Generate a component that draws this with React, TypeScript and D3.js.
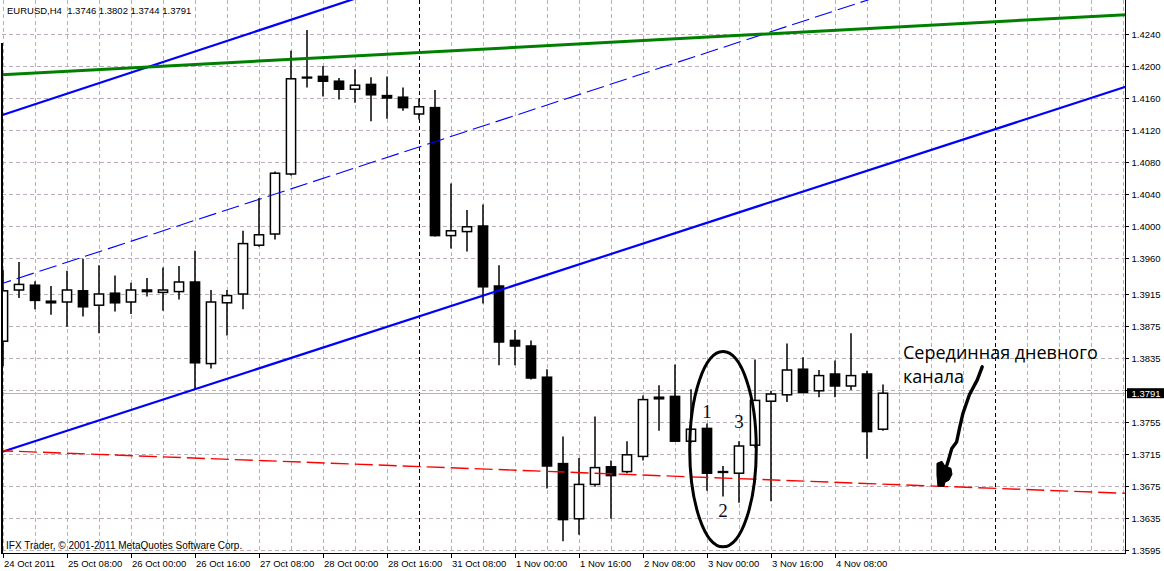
import React, { useEffect } from "react";
import * as d3 from "d3";

// EURUSD H4 candles, 24 Oct 16:00 .. 4 Nov 20:00 (2011)
const symbol = "EURUSD";
const timeframe = "H4";
const opens = [
  1.3856, 1.392, 1.3926, 1.3906, 1.3905, 1.3919, 1.3901, 1.3916, 1.3905, 1.392,
  1.3917, 1.3918, 1.393, 1.3828, 1.3904, 1.3915, 1.3976, 1.399, 1.4065, 1.4185,
  1.4187, 1.4181, 1.4171, 1.4177, 1.4163, 1.4161, 1.414, 1.4148, 1.3988, 1.3993,
  1.4, 1.3925, 1.3857, 1.385, 1.3811, 1.3703, 1.3634, 1.3677, 1.3699, 1.3693,
  1.3712, 1.3786, 1.3787, 1.3731, 1.3747, 1.3692, 1.3691, 1.3726, 1.3781, 1.3789,
  1.3821, 1.3794, 1.3815, 1.38, 1.3815, 1.3746,
];
const highs = [
  1.3945, 1.3955, 1.3931, 1.3925, 1.3944, 1.3959, 1.3951, 1.3938, 1.3929, 1.3935,
  1.3948, 1.395, 1.3969, 1.392, 1.392, 1.3994, 1.4035, 1.4068, 1.4219, 1.4245,
  1.42, 1.4185, 1.4196, 1.4186, 1.4187, 1.4173, 1.4159, 1.417, 1.4053, 1.402,
  1.4027, 1.3951, 1.387, 1.3857, 1.3821, 1.3737, 1.371, 1.3762, 1.3707, 1.3731,
  1.3788, 1.3801, 1.3827, 1.3796, 1.3753, 1.37, 1.3731, 1.3833, 1.3794, 1.3853,
  1.3836, 1.382, 1.3832, 1.3866, 1.3819, 1.3802,
];
const lows = [
  1.3825, 1.391, 1.3896, 1.3889, 1.3874, 1.3887, 1.3866, 1.3893, 1.389, 1.3912,
  1.3894, 1.3908, 1.3795, 1.3822, 1.3863, 1.3896, 1.3974, 1.3983, 1.4063, 1.4173,
  1.4162, 1.4158, 1.4154, 1.4131, 1.4134, 1.4144, 1.4133, 1.3987, 1.3972, 1.3968,
  1.3903, 1.3826, 1.3826, 1.3808, 1.3672, 1.3606, 1.3614, 1.3674, 1.3634, 1.3691,
  1.3707, 1.3744, 1.373, 1.3729, 1.3669, 1.3662, 1.3654, 1.3723, 1.3656, 1.378,
  1.3791, 1.3786, 1.3786, 1.3795, 1.3709, 1.3744,
];
const closes = [
  1.3919, 1.3927, 1.3907, 1.3904, 1.392, 1.3899, 1.3915, 1.3904, 1.392, 1.3918,
  1.392, 1.393, 1.3829, 1.3905, 1.3913, 1.3978, 1.3989, 1.4066, 1.4184, 1.4186,
  1.4181, 1.4171, 1.4176, 1.4164, 1.416, 1.4148, 1.4149, 1.3988, 1.3994, 1.3999,
  1.3924, 1.3855, 1.385, 1.381, 1.37, 1.3633, 1.3677, 1.3698, 1.3688, 1.3714,
  1.3783, 1.3784, 1.3731, 1.3746, 1.3691, 1.3693, 1.3725, 1.3782, 1.379, 1.382,
  1.3792, 1.3813, 1.38, 1.3813, 1.3743, 1.3791,
];

// time axis labels, one every 4 bars
const timeLabels = [
  "24 Oct 2011", "25 Oct 08:00", "26 Oct 00:00", "26 Oct 16:00", "27 Oct 08:00",
  "28 Oct 00:00", "28 Oct 16:00", "31 Oct 08:00", "1 Nov 00:00", "1 Nov 16:00",
  "2 Nov 08:00", "3 Nov 00:00", "3 Nov 16:00", "4 Nov 08:00",
];
const barsPerLabel = 4;
const gridEveryBars = 2;
const separatorBars = [26, 62];

// price scale levels
const priceTicks = [
  1.424, 1.42, 1.416, 1.412, 1.408, 1.404, 1.4, 1.396, 1.3915, 1.3875, 1.3835,
  1.3795, 1.3755, 1.3715, 1.3675, 1.3635, 1.3595,
];

// trend lines as [bar, price] anchor pairs
const channelUpper: [number, number][] = [[0, 1.4139], [20, 1.4271]];
const channelLower: [number, number][] = [[0, 1.3718], [60, 1.4108]];
const greenLine: [number, number][] = [[0, 1.4189], [70, 1.4264]];
const redLine: [number, number][] = [[0, 1.3719], [70, 1.3666]];

// hand annotations
const ellipseCenter: [number, number] = [45, 1.3721];
const ellipseHalfBars = 2.08;
const ellipseHalfPrice = 0.0122;
const waveLabels: { text: string; bar: number; price: number }[] = [
  { text: "1", bar: 44, price: 1.376 },
  { text: "2", bar: 45, price: 1.3636 },
  { text: "3", bar: 46, price: 1.3748 },
];
const noteLines = ["Серединная дневного", "канала"];
const noteAnchor: [number, number] = [56.25, 1.3834];
const arrowPath: [number, number][] = [
  [61.2, 1.3824], [60.9, 1.3808], [60.4, 1.3789], [60.0, 1.3766], [59.8, 1.3749],
  [59.6, 1.373], [59.3, 1.3722], [59.1, 1.3708], [58.9, 1.3695],
];
const arrowTipBar = 58.56;

const footer = "IFX Trader, © 2001-2011 MetaQuotes Software Corp.";

const W = 1164;
const H = 571;
const left = 2;
const right = 1125.5;
const top = 0;
const bottom = 553.5;
const axisFont = "'Liberation Sans', Arial, sans-serif";

function lineAt(pts: [number, number][], bar: number) {
  const [[b0, p0], [b1, p1]] = pts;
  return p0 + ((p1 - p0) * (bar - b0)) / (b1 - b0);
}

export default function App() {
  useEffect(() => {
    document.body.style.margin = "0";
  }, []);

  const x = d3.scaleLinear().domain([0, 70]).range([3, 1123]);
  const y = d3.scaleLinear().domain([1.3595, 1.424]).range([550, 34]);

  const bars = d3.range(closes.length);
  const gridBars = d3.range(0, 71, gridEveryBars);
  const last = closes.length - 1;
  const current = closes[last];

  const header = `${symbol},${timeframe}  ${[opens[last], highs[last], lows[last], closes[last]]
    .map((v) => v.toFixed(4))
    .join(" ")}`;

  const fullLine = (pts: [number, number][]) => {
    const b0 = -2;
    const b1 = 72;
    return { x1: x(b0), y1: y(lineAt(pts, b0)), x2: x(b1), y2: y(lineAt(pts, b1)) };
  };
  const midLine: [number, number][] = [
    [0, (lineAt(channelUpper, 0) + lineAt(channelLower, 0)) / 2],
    [60, (lineAt(channelUpper, 60) + lineAt(channelLower, 60)) / 2],
  ];

  const up = fullLine(channelUpper);
  const lo = fullLine(channelLower);
  const mid = fullLine(midLine);
  const gr = fullLine(greenLine);
  const rd = fullLine(redLine);

  const bodyHalf = 4.6;

  const arrowLine = d3
    .line<[number, number]>()
    .x((d) => x(d[0]))
    .y((d) => y(d[1]));

  const tipX = x(arrowTipBar);
  const tipY = y(lineAt(redLine, arrowTipBar));
  const blob: [number, number][] = [
    [-3, -23], [2, -25], [5, -20], [11, -18], [12, -12], [9, -6], [5, -4], [4, 0], [-2, 0], [-3, -11],
  ];

  const ex = x(ellipseCenter[0]);
  const ey = y(ellipseCenter[1]);
  const erx = x(ellipseCenter[0] + ellipseHalfBars) - ex;
  const ery = y(ellipseCenter[1] - ellipseHalfPrice) - ey;

  // price labels hidden behind the current-price marker
  const visibleTicks = priceTicks.filter((p) => Math.abs(y(p) - y(current)) > 8);

  return (
    <svg
      width={W}
      height={H}
      style={{ position: "absolute", left: 0, top: 0, background: "#fff", display: "block" }}
    >
      <defs>
        <clipPath id="plot">
          <rect x={left} y={top} width={right - left} height={bottom - top} />
        </clipPath>
      </defs>

      {/* grid */}
      <g stroke="#b9aeb9" strokeWidth={1} strokeDasharray="4,3" shapeRendering="crispEdges">
        {gridBars.map((b) => (
          <line key={`gv${b}`} x1={x(b)} x2={x(b)} y1={top} y2={bottom} />
        ))}
        {priceTicks.map((p) => (
          <line key={`gh${p}`} x1={left} x2={right} y1={y(p)} y2={y(p)} />
        ))}
      </g>

      {/* week separators */}
      <g stroke="#000" strokeWidth={1} strokeDasharray="4,3" shapeRendering="crispEdges">
        {separatorBars.map((b) => (
          <line key={`sep${b}`} x1={x(b)} x2={x(b)} y1={top} y2={bottom} />
        ))}
      </g>

      {/* current price line */}
      <line
        x1={left}
        x2={right}
        y1={y(current)}
        y2={y(current)}
        stroke="#b4b4b4"
        strokeWidth={1}
        shapeRendering="crispEdges"
      />

      <g clipPath="url(#plot)">
        {/* candles */}
        {bars.map((i) => {
          const cx = x(i);
          const o = opens[i];
          const c = closes[i];
          const bull = c >= o;
          const yTop = y(Math.max(o, c));
          const yBot = y(Math.min(o, c));
          return (
            <g key={`c${i}`}>
              <line x1={cx} x2={cx} y1={y(highs[i])} y2={y(lows[i])} stroke="#000" strokeWidth={1.5} />
              <rect
                x={cx - bodyHalf}
                y={yTop}
                width={bodyHalf * 2}
                height={Math.max(yBot - yTop, 0.4)}
                fill={bull ? "#fff" : "#000"}
                stroke="#000"
                strokeWidth={1.5}
              />
            </g>
          );
        })}

        {/* channel and trend lines */}
        <line {...up} stroke="#0000ff" strokeWidth={2.2} />
        <line {...lo} stroke="#0000ff" strokeWidth={2.2} />
        <line {...mid} stroke="#0000ff" strokeWidth={1.1} strokeDasharray="18,6" />
        <line {...gr} stroke="#008000" strokeWidth={3} />
        <line {...rd} stroke="#ff0000" strokeWidth={1.4} strokeDasharray="18,6" />

        {/* wave marking */}
        <ellipse cx={ex} cy={ey} rx={erx} ry={ery} fill="none" stroke="#000" strokeWidth={3} />
        {waveLabels.map((l) => (
          <text
            key={l.text}
            x={x(l.bar)}
            y={y(l.price)}
            textAnchor="middle"
            fontFamily="'Liberation Serif', 'DejaVu Serif', serif"
            fontSize={19}
            fill="#0a0a28"
          >
            {l.text}
          </text>
        ))}

        {/* note with arrow */}
        <text
          x={x(noteAnchor[0])}
          y={y(noteAnchor[1])}
          fontFamily="'Open Sans', sans-serif"
          fontSize={18}
          fill="#000"
        >
          {noteLines.map((t, i) => (
            <tspan key={t} x={x(noteAnchor[0])} dy={i === 0 ? 0 : 24}>
              {t}
            </tspan>
          ))}
        </text>
        <path
          d={arrowLine(arrowPath) ?? ""}
          fill="none"
          stroke="#000"
          strokeWidth={3.4}
          strokeLinecap="round"
          strokeLinejoin="round"
        />
        <path
          d={`M${blob.map(([dx, dy]) => `${tipX + dx},${tipY + dy}`).join("L")}Z`}
          fill="#000"
          stroke="#000"
          strokeWidth={1}
        />
      </g>

      {/* frame */}
      <g stroke="#000" strokeWidth={1.2} shapeRendering="crispEdges">
        <line x1={left} x2={left} y1={43} y2={bottom} />
        <line x1={right} x2={right} y1={top} y2={bottom} />
        <line x1={left} x2={right} y1={bottom} y2={bottom} />
      </g>

      {/* price axis */}
      <g fontFamily={axisFont} fontSize={9.5} fill="#000">
        {priceTicks.map((p) => (
          <line
            key={`pk${p}`}
            x1={right}
            x2={right + 3}
            y1={y(p)}
            y2={y(p)}
            stroke="#000"
            shapeRendering="crispEdges"
          />
        ))}
        {visibleTicks.map((p) => (
          <text key={`pt${p}`} x={right + 6} y={y(p) + 3.5}>
            {p.toFixed(4)}
          </text>
        ))}
        <rect x={right + 1.5} y={y(current) - 5} width={W - right - 1.5} height={10} fill="#000" />
        <text x={right + 6} y={y(current) + 3.5} fill="#fff">
          {current.toFixed(4)}
        </text>
      </g>

      {/* time axis */}
      <g fontFamily={axisFont} fontSize={9.5} fill="#000">
        {timeLabels.map((t, i) => {
          const bx = x(i * barsPerLabel);
          return (
            <g key={t}>
              <line x1={bx} x2={bx} y1={bottom} y2={bottom + 4} stroke="#000" shapeRendering="crispEdges" />
              <text x={bx + 1} y={567}>
                {t}
              </text>
            </g>
          );
        })}
      </g>

      {/* header and footer */}
      <text x={7} y={14} fontFamily={axisFont} fontSize={9.5} fill="#000" style={{ whiteSpace: "pre" }}>
        {header}
      </text>
      <text x={6} y={549} fontFamily={axisFont} fontSize={10} fill="#000">
        {footer}
      </text>
    </svg>
  );
}
